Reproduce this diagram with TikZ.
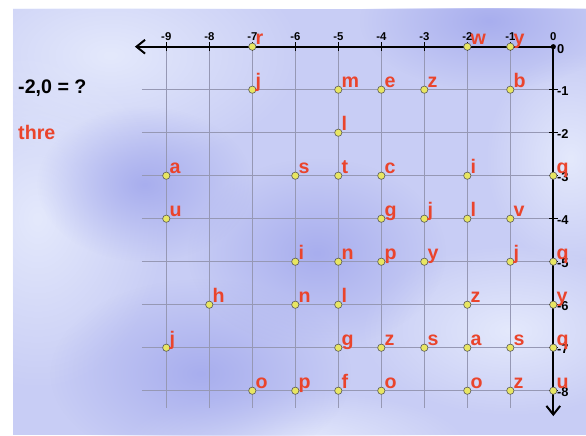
\documentclass[tikz,border=0pt]{standalone}
\usepackage{fontspec}
\setmainfont{Liberation Sans}
\usetikzlibrary{positioning, arrows.meta, fadings}

\definecolor{letterred}{RGB}{234,68,44}
\definecolor{dotyellow}{RGB}{232,230,98}
\definecolor{bgbase}{RGB}{200,205,245}
\definecolor{bglight}{RGB}{228,233,252}
\definecolor{bgdark}{RGB}{168,174,238}
\definecolor{gridgray}{RGB}{150,152,180}

\tikzfading[name=softspot, inner color=transparent!0, outer color=transparent!100]

\begin{document}
\begin{tikzpicture}[
    dot/.style      = {circle, draw=black!65, fill=dotyellow, line width=0.4pt, inner sep=0pt, minimum size=0.17cm},
    origin/.style   = {circle, fill=black, inner sep=0pt, minimum size=0.12cm},
    lett/.style     = {text=letterred, font=\fontsize{13}{13}\selectfont\bfseries, inner sep=0pt, anchor=base west},
    ticklab/.style  = {font=\fontsize{7.5}{7.5}\selectfont\bfseries, inner sep=0pt},
    ylab/.style     = {font=\fontsize{8.5}{8.5}\selectfont\bfseries, inner sep=0pt, anchor=west},
    axisline/.style = {line width=1.3pt, -{Straight Barb[length=2mm, width=3.2mm, line width=1.3pt]}},
    gridline/.style = {gridgray, line width=0.4pt},
    question/.style = {font=\fontsize{13}{13}\selectfont\bfseries, inner sep=0pt, anchor=base west},
    patch/.style    = {path fading=softspot}
]
\useasboundingbox (-12.867,-9.030) rectangle (0.760,1.086);

% background
\fill[bgbase] (-12.565,-9.030) rectangle (0.760,0.877);
\begin{scope}
\clip (-12.565,-9.030) rectangle (0.760,0.877);
\fill[bglight, patch] (-10.3,-0.2) ellipse (4.5 and 2.6);
\fill[bglight, patch] (-12.0,-4.0) ellipse (3 and 4);
\fill[bglight, patch] (-1.0,-6.6) ellipse (3.5 and 2);
\fill[bglight, patch] (0.4,-2.6) ellipse (2 and 2.5);
\fill[bglight, patch] (-6.0,-9.2) ellipse (4 and 1.2);
\fill[bgdark, patch] (-8.2,-7.6) ellipse (3.5 and 2.2);
\fill[bgdark, patch] (-5.5,-4.8) ellipse (3 and 2.2);
\fill[bgdark, patch] (-1.5,0.6) ellipse (3 and 1.6);
\fill[bgdark, patch] (-9.5,-3.2) ellipse (2.5 and 1.8);
\end{scope}

% grid
\foreach \y in {1,...,8}
    \draw[gridline] (-9.57,-\y) -- (0,-\y);
\foreach \x in {1,...,9}
    \draw[gridline] (-\x,0) -- (-\x,-8.4);

% axes
\node[origin] (O) at (0,0) {};
\coordinate (xend) at (-9.73,0);
\coordinate (yend) at (0,-8.59);
\draw[axisline] (O.center) -- (xend);
\draw[axisline] (O.center) -- (yend);

% ticks and numbers
\foreach \x in {1,...,9} {
    \draw[line width=0.8pt] (-\x,0.1) -- (-\x,-0.1);
    \node[ticklab] (xl\x) at (-\x,0.23) {-\x};
}
\node[ticklab] (xl0) at (0,0.23) {0};
\node[ylab] (yl0) at (0.08,-0.05) {0};
\foreach \y in {1,...,8} {
    \draw[line width=0.8pt] (-0.1,-\y) -- (0.1,-\y);
    \node[ylab] (yl\y) at (0.08,-\y-0.04) {-\y};
}

% points and letters
\foreach \x/\y/\l [count=\n] in {
    -7/0/r, -2/0/w, -1/0/y,
    -7/-1/j, -5/-1/m, -4/-1/e, -3/-1/z, -1/-1/b,
    -5/-2/l,
    -9/-3/a, -6/-3/s, -5/-3/t, -4/-3/c, -2/-3/i, 0/-3/q,
    -9/-4/u, -4/-4/g, -3/-4/j, -2/-4/l, -1/-4/v,
    -6/-5/i, -5/-5/n, -4/-5/p, -3/-5/y, -1/-5/j, 0/-5/q,
    -8/-6/h, -6/-6/n, -5/-6/l, -2/-6/z, 0/-6/y,
    -9/-7/j, -5/-7/g, -4/-7/z, -3/-7/s, -2/-7/a, -1/-7/s, 0/-7/q,
    -7/-8/o, -6/-8/p, -5/-8/f, -4/-8/o, -2/-8/o, -1/-8/z, 0/-8/u} {
    \node[dot] (p\n) at (\x,\y) {};
    \node[lett] (t\n) at ([shift={(0.07,0.05)}]p\n.center) {\l};
}

% question on the left
\node[question] (ask) at (-12.45,-1.10) {-2,0 = ?};
\node[question, text=letterred] (answer) at (-12.45,-2.15) {thre};

\end{tikzpicture}
\end{document}
